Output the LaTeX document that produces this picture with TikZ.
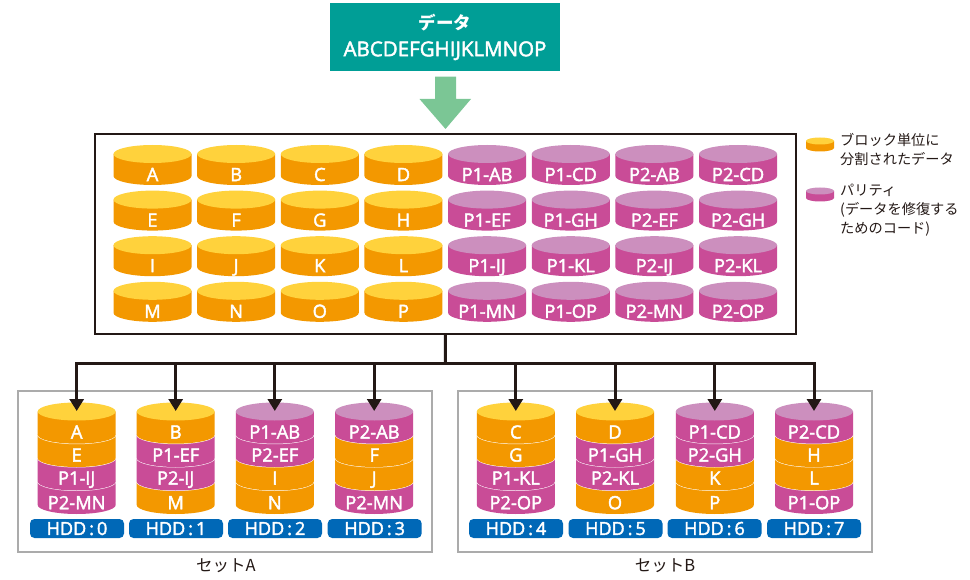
\documentclass[tikz,border=0pt]{standalone}
\usepackage{fontspec}
\setmainfont{Open Sans}[RawFeature={embolden=2.2}]
\newfontfamily\jpfont{Noto Sans CJK JP}
\usetikzlibrary{positioning,arrows.meta}

\definecolor{oside}{HTML}{F39800}
\definecolor{otop}{HTML}{FFD23C}
\definecolor{mside}{HTML}{C94C97}
\definecolor{mtop}{HTML}{CC8FBE}
\definecolor{hddblue}{HTML}{0068B7}
\definecolor{datateal}{HTML}{009E96}
\definecolor{downgreen}{HTML}{7BC695}
\definecolor{setgray}{HTML}{ABABAB}
\definecolor{linkblack}{HTML}{231815}

% one disk of height #3 at centre #1,#2, colour letter #4
\newcommand{\diskbody}[4]{
  \fill[#4side] (#1-39,#2) -- (#1-39,#2+#3) arc[start angle=180,end angle=0,x radius=39,y radius=9] -- (#1+39,#2) -- cycle;
}
\newcommand{\disktop}[3]{
  \fill[#3top] (#1,#2) ellipse [x radius=39,y radius=9];
}

\begin{document}
\begin{tikzpicture}[x=1pt,y=-1pt,
  disklabel/.style={text=white,font=\fontsize{18.3}{18.3}\selectfont,inner sep=0pt,text height=13.1pt,text depth=0pt},
  hddbox/.style={rounded corners=4.5pt,fill=hddblue,text=white,minimum width=94pt,minimum height=19pt,inner sep=0pt,font=\fontsize{18}{18}\selectfont,text height=12.9pt,text depth=0pt},
  setbox/.style={draw=setgray,line width=1.6pt,fill=white},
  note/.style={font=\jpfont\fontsize{14.2}{19}\selectfont,align=left,inner sep=0pt,text=linkblack},
  link/.style={line width=3pt,draw=linkblack},
  feed/.style={link,-{Triangle[length=12pt,width=14pt]}}]
  \useasboundingbox (0,0) rectangle (970,580);

  \node[fill=datateal,minimum width=230pt,minimum height=68pt,inner sep=0pt] (data) at (445,37.3) {};
  \node[text=white,inner sep=0pt,font=\jpfont\bfseries\fontsize{17.5}{17.5}\selectfont] (dataname) at (445,23) {データ};
  \node[text=white,inner sep=0pt,font=\fontsize{20.5}{20.5}\selectfont,text height=14.5pt,text depth=0pt] (dataseq) at (445,49) {ABCDEFGHIJKLMNOP};
  \fill[downgreen] (435,76.7) -- (456,76.7) -- (456,99) -- (471,99) -- (445.5,129) -- (419.5,99) -- (435,99) -- cycle;

  \node[draw=linkblack,line width=2pt,minimum width=700.5pt,minimum height=199.7pt,inner sep=0pt] (pool) at (445.4,233.8) {};

  % striped data and parity
  \foreach \lbl [count=\i from 0] in {A,B,C,D,P1-AB,P1-CD,P2-AB,P2-CD,
      E,F,G,H,P1-EF,P1-GH,P2-EF,P2-GH,
      I,J,K,L,P1-IJ,P1-KL,P2-IJ,P2-KL,
      M,N,O,P,P1-MN,P1-OP,P2-MN,P2-OP} {
    \pgfmathtruncatemacro{\col}{mod(\i,8)}
    \pgfmathtruncatemacro{\row}{\i/8}
    \pgfmathsetmacro{\dx}{152.5+83.65*\col}
    \pgfmathsetmacro{\dy}{154+45.6*\row}
    \ifnum\col<4 \def\kind{o}\else \def\kind{m}\fi
    \diskbody{\dx}{\dy}{22}{\kind}
    \disktop{\dx}{\dy}{\kind}
    \node[disklabel] (disk\i) at (\dx,\dy+20.5) {\lbl};
  }

  % legend
  \fill[oside] (806,141) -- (806,148) arc[start angle=180,end angle=0,x radius=14,y radius=3.5] -- (834,141) -- cycle;
  \fill[otop] (820,141) ellipse [x radius=14,y radius=3.5];
  \fill[mside] (806,191) -- (806,198) arc[start angle=180,end angle=0,x radius=14,y radius=3.5] -- (834,191) -- cycle;
  \fill[mtop] (820,191) ellipse [x radius=14,y radius=3.5];
  \node[note,anchor=north west] (legdata) at (840,133.5) {ブロック単位に\\分割されたデータ};
  \node[note,anchor=north west] (legpar) at (840,183.5) {パリティ\\(データを修復する\\ためのコード)};

  % the two sets
  \node[setbox,minimum width=413.5pt,minimum height=161pt,inner sep=0pt] (setA) at (225,471.3) {};
  \node[setbox,minimum width=414pt,minimum height=161pt,inner sep=0pt] (setB) at (665,471.3) {};
  \node[note,font=\jpfont\fontsize{16.5}{16.5}\selectfont] (setAname) at (226,565.5) {セットA};
  \node[note,font=\jpfont\fontsize{16.5}{16.5}\selectfont] (setBname) at (665,565.5) {セットB};

  \foreach \sx/\pillx/\n/\toplbl/\topkind/\secondlbl/\secondkind/\thirdlbl/\thirdkind/\fourthlbl/\fourthkind in {
      76.7/77/0/A/o/E/o/P1-IJ/m/P2-MN/m,
      175.7/176/1/B/o/P1-EF/m/P2-IJ/m/M/o,
      274.8/275/2/P1-AB/m/P2-EF/m/I/o/N/o,
      374.2/374.7/3/P2-AB/m/F/o/J/o/P2-MN/m,
      515.8/516/4/C/o/G/o/P1-KL/m/P2-OP/m,
      615/615.5/5/D/o/P1-GH/m/P2-KL/m/O/o,
      714.8/714.5/6/P1-CD/m/P2-GH/m/K/o/P/o,
      814/814/7/P2-CD/m/H/o/L/o/P1-OP/m} {
    \diskbody{\sx}{481.5}{23.5}{\fourthkind}
    \draw[white,line width=1pt] (\sx-39,481.5) arc[start angle=180,end angle=0,x radius=39,y radius=9];
    \diskbody{\sx}{458}{23.5}{\thirdkind}
    \draw[white,line width=1pt] (\sx-39,458) arc[start angle=180,end angle=0,x radius=39,y radius=9];
    \diskbody{\sx}{434.7}{23.3}{\secondkind}
    \draw[white,line width=1pt] (\sx-39,434.7) arc[start angle=180,end angle=0,x radius=39,y radius=9];
    \diskbody{\sx}{411.5}{23.2}{\topkind}
    \disktop{\sx}{411.5}{\topkind}
    \node[disklabel] (seg\n a) at (\sx,432) {\toplbl};
    \node[disklabel] (seg\n b) at (\sx,455) {\secondlbl};
    \node[disklabel] (seg\n c) at (\sx,478) {\thirdlbl};
    \node[disklabel] (seg\n d) at (\sx,502.7) {\fourthlbl};
    \node[hddbox] (hdd\n) at (\pillx,528.5) {HDD\,:\,\n};
    \coordinate (stack\n) at (\sx,411);
  }

  \coordinate (bus) at (445.5,363);
  \draw[link] (pool.south) -- (bus);
  \foreach \n in {0,...,7}
    \draw[feed] (bus) -| (stack\n);
\end{tikzpicture}
\end{document}
